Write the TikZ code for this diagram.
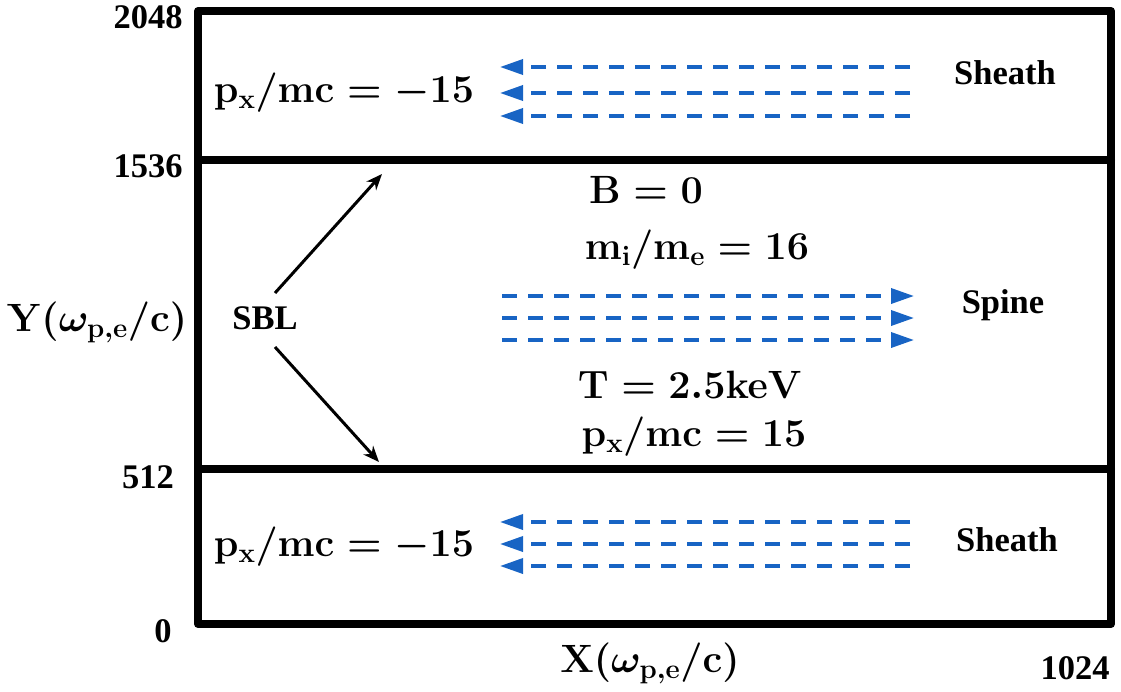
\RequirePackage{fix-cm}
\documentclass[tikz,border=0pt]{standalone}
\usepackage{fontspec}
\newfontfamily\tnr{Liberation Serif}
\usetikzlibrary{arrows.meta}
\definecolor{flowblue}{RGB}{24,100,196}
\begin{document}
\begin{tikzpicture}[x=1pt,y=-1pt,
  lab/.style={font=\tnr\bfseries\fontsize{34.5}{36}\selectfont, inner sep=0pt},
  mth/.style={font=\fontsize{39.5}{42}\selectfont\boldmath, inner sep=0pt},
  frame/.style={line width=8pt, line join=round, line cap=round},
  flow/.style={draw=flowblue, line width=3.5pt, dash pattern=on 15pt off 11pt,
    -{Triangle[length=23pt,width=15pt,fill=flowblue]}},
  sblarrow/.style={line width=3pt, -{Stealth[length=16pt,width=13pt]}}]
\useasboundingbox (0,0) rectangle (1121,691);

% frame
\coordinate (tl) at (198,11);
\coordinate (br) at (1111,624);
\draw[frame] (tl) rectangle (br);
\coordinate (d1l) at (198,160);
\coordinate (d1r) at (1111,160);
\coordinate (d2l) at (198,469);
\coordinate (d2r) at (1111,469);
\draw[frame] (d1l) -- (d1r);
\draw[frame] (d2l) -- (d2r);

% axis labels
\node[lab] (y2048) at (148,17) {2048};
\node[lab] (y1536) at (148,166) {1536};
\node[lab] (y512) at (148,477) {512};
\node[lab] (y0) at (163,631) {0};
\node[lab] (x1024) at (1075,668) {1024};
\node[mth] (xlab) at (650,663) {$\mathbf{X(\omega_{p,e}/c)}$};
\node[mth] (ylab) at (97,322) {$\mathbf{Y(\omega_{p,e}/c)}$};

% sheath top
\node[mth] (ptop) at (344,93) {$\mathbf{p_x/mc=-15}$};
\node[lab] (sheathtop) at (1005,73) {Sheath};
\foreach \y [count=\i] in {67,93,116}{
  \coordinate (ts\i) at (910,\y);
  \coordinate (te\i) at (500,\y);
  \draw[flow] (ts\i) -- (te\i);
}

% spine
\node[mth] (bzero) at (646,190) {$\mathbf{B=0}$};
\node[mth] (mass) at (697,250) {$\mathbf{m_i/m_e=16}$};
\node[lab] (spine) at (1003,305) {Spine};
\node[mth] (temp) at (690,385) {$\mathbf{T=2.5keV}$};
\node[mth] (pspine) at (694,437) {$\mathbf{p_x/mc=15}$};
\foreach \y [count=\i] in {296,318,340}{
  \coordinate (ss\i) at (502,\y);
  \coordinate (se\i) at (914,\y);
  \draw[flow] (ss\i) -- (se\i);
}

% sheath bottom
\node[mth] (pbot) at (344,547) {$\mathbf{p_x/mc=-15}$};
\node[lab] (sheathbot) at (1007,540) {Sheath};
\foreach \y [count=\i] in {522,544,566}{
  \coordinate (bs\i) at (910,\y);
  \coordinate (be\i) at (500,\y);
  \draw[flow] (bs\i) -- (be\i);
}

% SBL
\node[lab] (sbl) at (265,318) {SBL};
\coordinate (upA) at (275,293);
\coordinate (upB) at (382,174);
\coordinate (dnA) at (275,347);
\coordinate (dnB) at (379,462);
\draw[sblarrow] (upA) -- (upB);
\draw[sblarrow] (dnA) -- (dnB);
\end{tikzpicture}
\end{document}
